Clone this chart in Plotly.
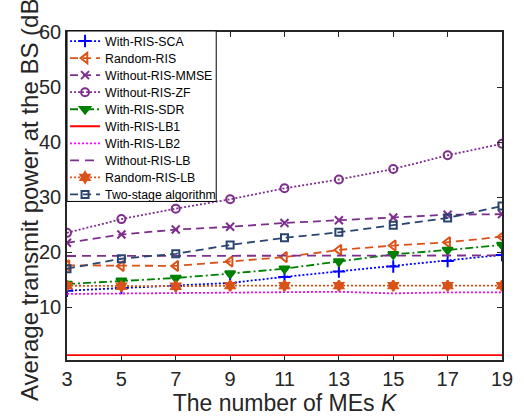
import plotly.graph_objects as go

K = [3, 5, 7, 9, 11, 13, 15, 17, 19]
with_ris_sca = [13.0, 13.5, 13.9, 14.4, 15.5, 16.5, 17.4, 18.4, 19.5]
random_ris = [17.6, 17.5, 17.5, 18.3, 19.1, 20.4, 21.2, 21.8, 22.8]
without_ris_mmse = [21.7, 23.2, 24.1, 24.6, 25.3, 25.8, 26.3, 26.8, 26.9]
without_ris_zf = [23.5, 26.0, 27.9, 29.6, 31.6, 33.2, 35.1, 37.6, 39.7]
with_ris_sdr = [14.2, 14.8, 15.3, 16.1, 17.0, 18.3, 19.6, 20.4, 21.3]
with_ris_lb1 = [1.3, 1.3, 1.3, 1.3, 1.3, 1.3, 1.3, 1.3, 1.3]
with_ris_lb2 = [12.4, 12.5, 12.6, 12.7, 12.8, 12.8, 12.5, 12.7, 12.7]
without_ris_lb = [19.3, 19.3, 19.3, 19.4, 19.4, 19.4, 19.4, 19.4, 19.4]
random_ris_lb = [13.9, 13.8, 13.8, 13.9, 13.9, 13.9, 13.9, 13.9, 13.9]
two_stage = [17.0, 18.8, 19.7, 21.3, 22.6, 23.6, 24.9, 26.2, 28.4]

ORANGE = "#D95319"
PURPLE = "#7E2F8E"
NAVY = "#2A4470"
DASH = "8px,5px"
DOT = "2px,2px"
DASHDOT = "8px,3px,2px,3px"

series = [
    ("With-RIS-SCA", with_ris_sca, "#0000FF", DOT, "cross-thin", 9),
    ("Random-RIS", random_ris, ORANGE, DASH, "triangle-left-open", 9),
    ("Without-RIS-MMSE", without_ris_mmse, PURPLE, DASH, "x-thin", 8),
    ("Without-RIS-ZF", without_ris_zf, PURPLE, DOT, "circle-open", 8),
    ("With-RIS-SDR", with_ris_sdr, "#008000", DASHDOT, "triangle-down", 9),
    ("With-RIS-LB1", with_ris_lb1, "#FF0000", "solid", None, 0),
    ("With-RIS-LB2", with_ris_lb2, "#FF00FF", DOT, None, 0),
    ("Without-RIS-LB", without_ris_lb, PURPLE, "9px,6px", None, 0),
    ("Random-RIS-LB", random_ris_lb, ORANGE, DOT, "hexagram", 8),
    ("Two-stage algorithm", two_stage, NAVY, DASH, "square-open", 7),
]

FONT = "Liberation Sans, Arial, sans-serif"
PLOT_TOP, PLOT_H = 32, 331
LEG_FIRST, LEG_STEP, LEG_OFF = 42.0, 17.2, 15.5

fig = go.Figure()
legend_layouts = {}
for i, (name, vals, color, dash, sym, msize) in enumerate(series):
    key = "legend" if i == 0 else f"legend{i + 1}"
    kw = {}
    if sym is None:
        mode = "lines"
    else:
        mode = "lines+markers"
        kw["marker"] = dict(symbol=sym, size=msize, color=color,
                            line=dict(color=color, width=2))
    fig.add_trace(go.Scatter(x=K, y=vals, name=name, mode=mode, legend=key,
                             line=dict(color=color, width=1.8, dash=dash), **kw))
    top_px = LEG_FIRST + LEG_STEP * i - LEG_OFF
    legend_layouts[key] = dict(
        x=-2 / 446, y=1 - (top_px - PLOT_TOP) / PLOT_H, xanchor="left", yanchor="top",
        bgcolor="rgba(0,0,0,0)", borderwidth=0,
        font=dict(size=12.3, color="#000000", family=FONT), itemwidth=30,
    )

# legend frame (white box with black border)
fig.add_shape(type="rect", xref="paper", yref="paper",
              x0=0, x1=(220 - 67) / 446, y0=1 - (203 - PLOT_TOP) / PLOT_H,
              y1=1 - (31 - PLOT_TOP) / PLOT_H,
              fillcolor="white", line=dict(color="#000000", width=1), layer="above")

fig.update_layout(
    width=524, height=417,
    margin=dict(l=67, r=11, t=32, b=54),
    paper_bgcolor="white", plot_bgcolor="white",
    font=dict(family=FONT, color="#262626"),
    showlegend=True,
    xaxis=dict(range=[3, 19], tickvals=K, ticks="inside", ticklen=5,
               showline=True, linecolor="#262626", linewidth=1.5, mirror="ticks",
               tickcolor="#262626", showgrid=False, zeroline=False,
               tickfont=dict(size=20, color="#262626"),
               title=dict(text="The number of MEs <i>K</i>", font=dict(size=23, color="#262626"),
                          standoff=0)),
    yaxis=dict(range=[0.4, 60], tickvals=[10, 20, 30, 40, 50, 60], ticks="inside", ticklen=5,
               showline=True, linecolor="#262626", linewidth=1.5, mirror="ticks",
               tickcolor="#262626", showgrid=False, zeroline=False,
               tickfont=dict(size=20, color="#262626")),
    annotations=[dict(text="Average transmit power at the BS (dB)", textangle=-90,
                      xref="paper", yref="paper", x=(28 - 67) / 446, y=0.5,
                      xanchor="center", yanchor="middle", showarrow=False,
                      font=dict(size=24, color="#262626", family=FONT))],
    **legend_layouts,
)

fig.write_html("out.html")
